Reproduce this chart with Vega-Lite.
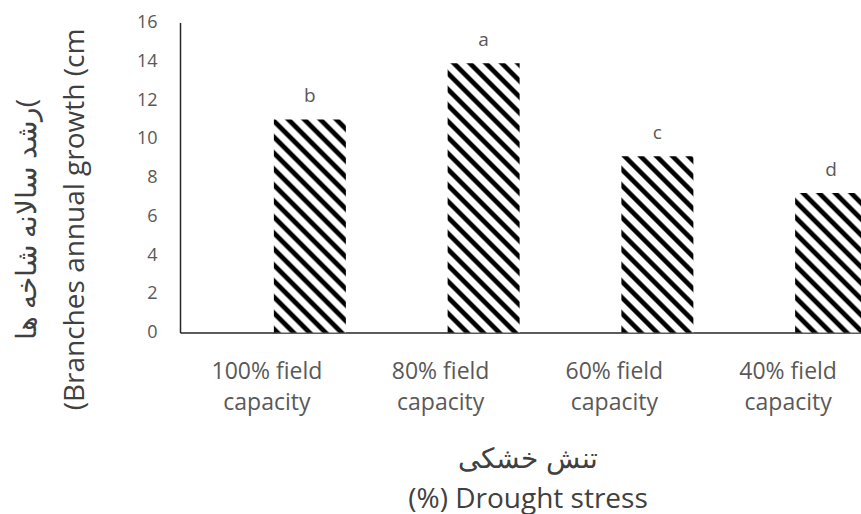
{
"$schema": "https://vega.github.io/schema/vega-lite/v6.json",
"width": 681,
"height": 310,
"autosize": {"type": "none"},
"padding": {"left": 180, "top": 22.5, "right": 0, "bottom": 181.5},
"background": "white",
"config": {"view": {"stroke": null}, "font": "Open Sans"},
"data": {"values": [
{"treatment": "100% field capacity", "growth": 11, "group": "b"},
{"treatment": "80% field capacity", "growth": 13.9, "group": "a"},
{"treatment": "60% field capacity", "growth": 9.1, "group": "c"},
{"treatment": "40% field capacity", "growth": 7.2, "group": "d"}
]},
"encoding": {
"x": {"field": "treatment", "type": "nominal", "sort": null,
"scale": {"range": [0, 695], "paddingInner": 0, "paddingOuter": 0},
"axis": {"title": ["تنش خشکی", "(%) Drought stress"], "labelAngle": 0, "labelFontSize": 23, "labelColor": "#595959", "labelFont": "Open Sans", "labelPadding": 28, "labelLineHeight": 31.4, "labelLimit": 0, "labelExpr": "[replace(datum.label, ' capacity', ''), 'capacity']", "ticks": false, "tickSize": 0, "domainColor": "#262626", "domainWidth": 1.5, "titleFont": "Open Sans", "titleFontSize": 28, "titleFontWeight": "normal", "titleColor": "#404040", "titleLineHeight": 40, "titleBaseline": "alphabetic", "titleAlign": "center", "titleX": 347.5, "titleY": 134.5}},
"y": {"field": "growth", "type": "quantitative",
"scale": {"domain": [0, 16], "nice": false, "zero": true},
"axis": {"values": [0, 2, 4, 6, 8, 10, 12, 14, 16], "grid": false, "ticks": false, "tickSize": 0, "labelPadding": 23, "labelFontSize": 18, "labelFont": "Open Sans", "labelColor": "#595959", "domainColor": "#262626", "domainWidth": 1.5, "title": ["رشد سالانه شاخه ها(", "(Branches annual growth (cm"], "titleFont": "Open Sans", "titleFontSize": 28, "titleFontWeight": "normal", "titleColor": "#404040", "titleAngle": 270, "titleAlign": "center", "titleBaseline": "alphabetic", "titleLineHeight": 48, "titleX": -145, "titleY": 196.5}}
},
"layer": [
{"mark": {"type": "bar", "width": 72, "xOffset": 43},
"encoding": {"fill": {"condition": [
{"test": "datum.treatment === '100% field capacity'", "value": {"gradient": "linear", "x1": 0, "y1": 1, "x2": 0.5008, "y2": -0.4824, "stops": [
{"offset":0.0036,"color":"#000"},{"offset":0.0164,"color":"#000"},{"offset":0.0227,"color":"#fff"},{"offset":0.0427,"color":"#fff"},
{"offset":0.0491,"color":"#000"},{"offset":0.0618,"color":"#000"},{"offset":0.0682,"color":"#fff"},{"offset":0.0882,"color":"#fff"},
{"offset":0.0945,"color":"#000"},{"offset":0.1073,"color":"#000"},{"offset":0.1136,"color":"#fff"},{"offset":0.1336,"color":"#fff"},
{"offset":0.1400,"color":"#000"},{"offset":0.1527,"color":"#000"},{"offset":0.1591,"color":"#fff"},{"offset":0.1791,"color":"#fff"},
{"offset":0.1855,"color":"#000"},{"offset":0.1982,"color":"#000"},{"offset":0.2045,"color":"#fff"},{"offset":0.2245,"color":"#fff"},
{"offset":0.2309,"color":"#000"},{"offset":0.2436,"color":"#000"},{"offset":0.2500,"color":"#fff"},{"offset":0.2700,"color":"#fff"},
{"offset":0.2764,"color":"#000"},{"offset":0.2891,"color":"#000"},{"offset":0.2955,"color":"#fff"},{"offset":0.3155,"color":"#fff"},
{"offset":0.3218,"color":"#000"},{"offset":0.3345,"color":"#000"},{"offset":0.3409,"color":"#fff"},{"offset":0.3609,"color":"#fff"},
{"offset":0.3673,"color":"#000"},{"offset":0.3800,"color":"#000"},{"offset":0.3864,"color":"#fff"},{"offset":0.4064,"color":"#fff"},
{"offset":0.4127,"color":"#000"},{"offset":0.4255,"color":"#000"},{"offset":0.4318,"color":"#fff"},{"offset":0.4518,"color":"#fff"},
{"offset":0.4582,"color":"#000"},{"offset":0.4709,"color":"#000"},{"offset":0.4773,"color":"#fff"},{"offset":0.4973,"color":"#fff"},
{"offset":0.5036,"color":"#000"},{"offset":0.5164,"color":"#000"},{"offset":0.5227,"color":"#fff"},{"offset":0.5427,"color":"#fff"},
{"offset":0.5491,"color":"#000"},{"offset":0.5618,"color":"#000"},{"offset":0.5682,"color":"#fff"},{"offset":0.5882,"color":"#fff"},
{"offset":0.5945,"color":"#000"},{"offset":0.6073,"color":"#000"},{"offset":0.6136,"color":"#fff"},{"offset":0.6336,"color":"#fff"},
{"offset":0.6400,"color":"#000"},{"offset":0.6527,"color":"#000"},{"offset":0.6591,"color":"#fff"},{"offset":0.6791,"color":"#fff"},
{"offset":0.6855,"color":"#000"},{"offset":0.6982,"color":"#000"},{"offset":0.7045,"color":"#fff"},{"offset":0.7245,"color":"#fff"},
{"offset":0.7309,"color":"#000"},{"offset":0.7436,"color":"#000"},{"offset":0.7500,"color":"#fff"},{"offset":0.7700,"color":"#fff"},
{"offset":0.7764,"color":"#000"},{"offset":0.7891,"color":"#000"},{"offset":0.7955,"color":"#fff"},{"offset":0.8155,"color":"#fff"},
{"offset":0.8218,"color":"#000"},{"offset":0.8345,"color":"#000"},{"offset":0.8409,"color":"#fff"},{"offset":0.8609,"color":"#fff"},
{"offset":0.8673,"color":"#000"},{"offset":0.8800,"color":"#000"},{"offset":0.8864,"color":"#fff"},{"offset":0.9064,"color":"#fff"},
{"offset":0.9127,"color":"#000"},{"offset":0.9255,"color":"#000"},{"offset":0.9318,"color":"#fff"},{"offset":0.9518,"color":"#fff"},
{"offset":0.9582,"color":"#000"},{"offset":0.9709,"color":"#000"},{"offset":0.9773,"color":"#fff"},{"offset":0.9973,"color":"#fff"}
]}},
{"test": "datum.treatment === '80% field capacity'", "value": {"gradient": "linear", "x1": 0, "y1": 1, "x2": 0.3261, "y2": -0.2198, "stops": [
{"offset":0.0036,"color":"#000"},{"offset":0.0164,"color":"#000"},{"offset":0.0227,"color":"#fff"},{"offset":0.0427,"color":"#fff"},
{"offset":0.0491,"color":"#000"},{"offset":0.0618,"color":"#000"},{"offset":0.0682,"color":"#fff"},{"offset":0.0882,"color":"#fff"},
{"offset":0.0945,"color":"#000"},{"offset":0.1073,"color":"#000"},{"offset":0.1136,"color":"#fff"},{"offset":0.1336,"color":"#fff"},
{"offset":0.1400,"color":"#000"},{"offset":0.1527,"color":"#000"},{"offset":0.1591,"color":"#fff"},{"offset":0.1791,"color":"#fff"},
{"offset":0.1855,"color":"#000"},{"offset":0.1982,"color":"#000"},{"offset":0.2045,"color":"#fff"},{"offset":0.2245,"color":"#fff"},
{"offset":0.2309,"color":"#000"},{"offset":0.2436,"color":"#000"},{"offset":0.2500,"color":"#fff"},{"offset":0.2700,"color":"#fff"},
{"offset":0.2764,"color":"#000"},{"offset":0.2891,"color":"#000"},{"offset":0.2955,"color":"#fff"},{"offset":0.3155,"color":"#fff"},
{"offset":0.3218,"color":"#000"},{"offset":0.3345,"color":"#000"},{"offset":0.3409,"color":"#fff"},{"offset":0.3609,"color":"#fff"},
{"offset":0.3673,"color":"#000"},{"offset":0.3800,"color":"#000"},{"offset":0.3864,"color":"#fff"},{"offset":0.4064,"color":"#fff"},
{"offset":0.4127,"color":"#000"},{"offset":0.4255,"color":"#000"},{"offset":0.4318,"color":"#fff"},{"offset":0.4518,"color":"#fff"},
{"offset":0.4582,"color":"#000"},{"offset":0.4709,"color":"#000"},{"offset":0.4773,"color":"#fff"},{"offset":0.4973,"color":"#fff"},
{"offset":0.5036,"color":"#000"},{"offset":0.5164,"color":"#000"},{"offset":0.5227,"color":"#fff"},{"offset":0.5427,"color":"#fff"},
{"offset":0.5491,"color":"#000"},{"offset":0.5618,"color":"#000"},{"offset":0.5682,"color":"#fff"},{"offset":0.5882,"color":"#fff"},
{"offset":0.5945,"color":"#000"},{"offset":0.6073,"color":"#000"},{"offset":0.6136,"color":"#fff"},{"offset":0.6336,"color":"#fff"},
{"offset":0.6400,"color":"#000"},{"offset":0.6527,"color":"#000"},{"offset":0.6591,"color":"#fff"},{"offset":0.6791,"color":"#fff"},
{"offset":0.6855,"color":"#000"},{"offset":0.6982,"color":"#000"},{"offset":0.7045,"color":"#fff"},{"offset":0.7245,"color":"#fff"},
{"offset":0.7309,"color":"#000"},{"offset":0.7436,"color":"#000"},{"offset":0.7500,"color":"#fff"},{"offset":0.7700,"color":"#fff"},
{"offset":0.7764,"color":"#000"},{"offset":0.7891,"color":"#000"},{"offset":0.7955,"color":"#fff"},{"offset":0.8155,"color":"#fff"},
{"offset":0.8218,"color":"#000"},{"offset":0.8345,"color":"#000"},{"offset":0.8409,"color":"#fff"},{"offset":0.8609,"color":"#fff"},
{"offset":0.8673,"color":"#000"},{"offset":0.8800,"color":"#000"},{"offset":0.8864,"color":"#fff"},{"offset":0.9064,"color":"#fff"},
{"offset":0.9127,"color":"#000"},{"offset":0.9255,"color":"#000"},{"offset":0.9318,"color":"#fff"},{"offset":0.9518,"color":"#fff"},
{"offset":0.9582,"color":"#000"},{"offset":0.9709,"color":"#000"},{"offset":0.9773,"color":"#fff"},{"offset":0.9973,"color":"#fff"}
]}},
{"test": "datum.treatment === '60% field capacity'", "value": {"gradient": "linear", "x1": 0, "y1": 1, "x2": 0.6988, "y2": -0.7111, "stops": [
{"offset":0.0036,"color":"#000"},{"offset":0.0164,"color":"#000"},{"offset":0.0227,"color":"#fff"},{"offset":0.0427,"color":"#fff"},
{"offset":0.0491,"color":"#000"},{"offset":0.0618,"color":"#000"},{"offset":0.0682,"color":"#fff"},{"offset":0.0882,"color":"#fff"},
{"offset":0.0945,"color":"#000"},{"offset":0.1073,"color":"#000"},{"offset":0.1136,"color":"#fff"},{"offset":0.1336,"color":"#fff"},
{"offset":0.1400,"color":"#000"},{"offset":0.1527,"color":"#000"},{"offset":0.1591,"color":"#fff"},{"offset":0.1791,"color":"#fff"},
{"offset":0.1855,"color":"#000"},{"offset":0.1982,"color":"#000"},{"offset":0.2045,"color":"#fff"},{"offset":0.2245,"color":"#fff"},
{"offset":0.2309,"color":"#000"},{"offset":0.2436,"color":"#000"},{"offset":0.2500,"color":"#fff"},{"offset":0.2700,"color":"#fff"},
{"offset":0.2764,"color":"#000"},{"offset":0.2891,"color":"#000"},{"offset":0.2955,"color":"#fff"},{"offset":0.3155,"color":"#fff"},
{"offset":0.3218,"color":"#000"},{"offset":0.3345,"color":"#000"},{"offset":0.3409,"color":"#fff"},{"offset":0.3609,"color":"#fff"},
{"offset":0.3673,"color":"#000"},{"offset":0.3800,"color":"#000"},{"offset":0.3864,"color":"#fff"},{"offset":0.4064,"color":"#fff"},
{"offset":0.4127,"color":"#000"},{"offset":0.4255,"color":"#000"},{"offset":0.4318,"color":"#fff"},{"offset":0.4518,"color":"#fff"},
{"offset":0.4582,"color":"#000"},{"offset":0.4709,"color":"#000"},{"offset":0.4773,"color":"#fff"},{"offset":0.4973,"color":"#fff"},
{"offset":0.5036,"color":"#000"},{"offset":0.5164,"color":"#000"},{"offset":0.5227,"color":"#fff"},{"offset":0.5427,"color":"#fff"},
{"offset":0.5491,"color":"#000"},{"offset":0.5618,"color":"#000"},{"offset":0.5682,"color":"#fff"},{"offset":0.5882,"color":"#fff"},
{"offset":0.5945,"color":"#000"},{"offset":0.6073,"color":"#000"},{"offset":0.6136,"color":"#fff"},{"offset":0.6336,"color":"#fff"},
{"offset":0.6400,"color":"#000"},{"offset":0.6527,"color":"#000"},{"offset":0.6591,"color":"#fff"},{"offset":0.6791,"color":"#fff"},
{"offset":0.6855,"color":"#000"},{"offset":0.6982,"color":"#000"},{"offset":0.7045,"color":"#fff"},{"offset":0.7245,"color":"#fff"},
{"offset":0.7309,"color":"#000"},{"offset":0.7436,"color":"#000"},{"offset":0.7500,"color":"#fff"},{"offset":0.7700,"color":"#fff"},
{"offset":0.7764,"color":"#000"},{"offset":0.7891,"color":"#000"},{"offset":0.7955,"color":"#fff"},{"offset":0.8155,"color":"#fff"},
{"offset":0.8218,"color":"#000"},{"offset":0.8345,"color":"#000"},{"offset":0.8409,"color":"#fff"},{"offset":0.8609,"color":"#fff"},
{"offset":0.8673,"color":"#000"},{"offset":0.8800,"color":"#000"},{"offset":0.8864,"color":"#fff"},{"offset":0.9064,"color":"#fff"},
{"offset":0.9127,"color":"#000"},{"offset":0.9255,"color":"#000"},{"offset":0.9318,"color":"#fff"},{"offset":0.9518,"color":"#fff"},
{"offset":0.9582,"color":"#000"},{"offset":0.9709,"color":"#000"},{"offset":0.9773,"color":"#fff"},{"offset":0.9973,"color":"#fff"}
]}}
],
"value": {"gradient": "linear", "x1": 0, "y1": 1, "x2": 1.0284, "y2": -0.9925, "stops": [
{"offset":0.0036,"color":"#000"},{"offset":0.0164,"color":"#000"},{"offset":0.0227,"color":"#fff"},{"offset":0.0427,"color":"#fff"},
{"offset":0.0491,"color":"#000"},{"offset":0.0618,"color":"#000"},{"offset":0.0682,"color":"#fff"},{"offset":0.0882,"color":"#fff"},
{"offset":0.0945,"color":"#000"},{"offset":0.1073,"color":"#000"},{"offset":0.1136,"color":"#fff"},{"offset":0.1336,"color":"#fff"},
{"offset":0.1400,"color":"#000"},{"offset":0.1527,"color":"#000"},{"offset":0.1591,"color":"#fff"},{"offset":0.1791,"color":"#fff"},
{"offset":0.1855,"color":"#000"},{"offset":0.1982,"color":"#000"},{"offset":0.2045,"color":"#fff"},{"offset":0.2245,"color":"#fff"},
{"offset":0.2309,"color":"#000"},{"offset":0.2436,"color":"#000"},{"offset":0.2500,"color":"#fff"},{"offset":0.2700,"color":"#fff"},
{"offset":0.2764,"color":"#000"},{"offset":0.2891,"color":"#000"},{"offset":0.2955,"color":"#fff"},{"offset":0.3155,"color":"#fff"},
{"offset":0.3218,"color":"#000"},{"offset":0.3345,"color":"#000"},{"offset":0.3409,"color":"#fff"},{"offset":0.3609,"color":"#fff"},
{"offset":0.3673,"color":"#000"},{"offset":0.3800,"color":"#000"},{"offset":0.3864,"color":"#fff"},{"offset":0.4064,"color":"#fff"},
{"offset":0.4127,"color":"#000"},{"offset":0.4255,"color":"#000"},{"offset":0.4318,"color":"#fff"},{"offset":0.4518,"color":"#fff"},
{"offset":0.4582,"color":"#000"},{"offset":0.4709,"color":"#000"},{"offset":0.4773,"color":"#fff"},{"offset":0.4973,"color":"#fff"},
{"offset":0.5036,"color":"#000"},{"offset":0.5164,"color":"#000"},{"offset":0.5227,"color":"#fff"},{"offset":0.5427,"color":"#fff"},
{"offset":0.5491,"color":"#000"},{"offset":0.5618,"color":"#000"},{"offset":0.5682,"color":"#fff"},{"offset":0.5882,"color":"#fff"},
{"offset":0.5945,"color":"#000"},{"offset":0.6073,"color":"#000"},{"offset":0.6136,"color":"#fff"},{"offset":0.6336,"color":"#fff"},
{"offset":0.6400,"color":"#000"},{"offset":0.6527,"color":"#000"},{"offset":0.6591,"color":"#fff"},{"offset":0.6791,"color":"#fff"},
{"offset":0.6855,"color":"#000"},{"offset":0.6982,"color":"#000"},{"offset":0.7045,"color":"#fff"},{"offset":0.7245,"color":"#fff"},
{"offset":0.7309,"color":"#000"},{"offset":0.7436,"color":"#000"},{"offset":0.7500,"color":"#fff"},{"offset":0.7700,"color":"#fff"},
{"offset":0.7764,"color":"#000"},{"offset":0.7891,"color":"#000"},{"offset":0.7955,"color":"#fff"},{"offset":0.8155,"color":"#fff"},
{"offset":0.8218,"color":"#000"},{"offset":0.8345,"color":"#000"},{"offset":0.8409,"color":"#fff"},{"offset":0.8609,"color":"#fff"},
{"offset":0.8673,"color":"#000"},{"offset":0.8800,"color":"#000"},{"offset":0.8864,"color":"#fff"},{"offset":0.9064,"color":"#fff"},
{"offset":0.9127,"color":"#000"},{"offset":0.9255,"color":"#000"},{"offset":0.9318,"color":"#fff"},{"offset":0.9518,"color":"#fff"},
{"offset":0.9582,"color":"#000"},{"offset":0.9709,"color":"#000"},{"offset":0.9773,"color":"#fff"},{"offset":0.9973,"color":"#fff"}
]}}}},
{"mark": {"type": "text", "xOffset": 43, "dy": -17, "baseline": "alphabetic", "align": "center", "fontSize": 19, "font": "Open Sans", "color": "#595959"},
"encoding": {"text": {"field": "group", "type": "nominal"}}}
]
}
